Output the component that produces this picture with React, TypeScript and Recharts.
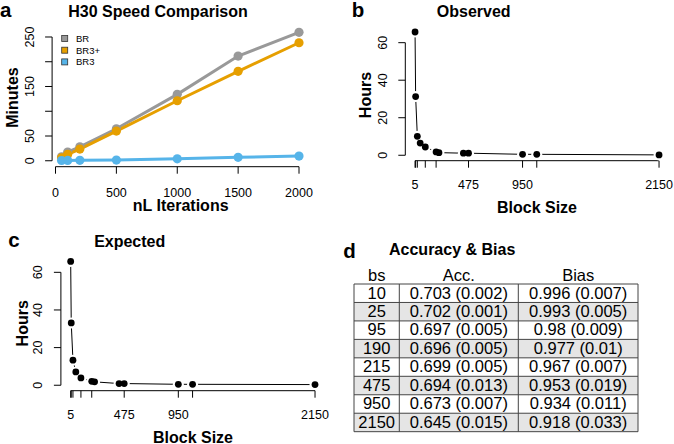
import React from "react";
import { LineChart, Line, XAxis, YAxis, ReferenceLine } from "recharts";

const FONT = '"Liberation Sans", Arial, Helvetica, sans-serif';

// panel a: run time vs nL iterations
const iterations = [50, 100, 200, 500, 1000, 1500, 2000];
const brMinutes = [8, 17.5, 28.3, 64.6, 134.1, 211.5, 259.4];
const br3PlusMinutes = [6, 12.9, 23.6, 60, 121.2, 180.6, 238.4];
const br3Minutes = [0.5, 0.6, 0.8, 1.4, 4, 6.9, 9.5];

const speedSeries = [
  { key: "br", label: "BR", color: "#999999", values: brMinutes },
  { key: "br3p", label: "BR3+", color: "#E69F00", values: br3PlusMinutes },
  { key: "br3", label: "BR3", color: "#56B4E9", values: br3Minutes },
];

// panels b and c: hours vs block size
const blockSizes = [5, 10, 25, 50, 95, 190, 215, 430, 475, 950, 1075, 2150];
const observedHours = [65.7, 31.3, 10.1, 6.5, 4.4, 1.8, 1.4, 1.1, 1.1, 0.5, 0.5, 0.2];
const expectedHours = [65.8, 33.1, 13.3, 7.1, 3.9, 2.1, 1.8, 0.9, 0.9, 0.5, 0.5, 0.35];

const iterTicks = [0, 500, 1000, 1500, 2000];
const minuteTicks = [0, 50, 100, 150, 200, 250];
const minuteLabels = [0, 50, 150, 250];
const blockTicks = [5, 10, 25, 95, 190, 475, 950, 1075, 2150];
const blockLabels = [5, 475, 950, 2150];
const hourTicks = [0, 20, 40, 60];

// panel d table
const tableBs = ["10", "25", "95", "190", "215", "475", "950", "2150"];
const tableAcc = [
  "0.703 (0.002)",
  "0.702 (0.001)",
  "0.697 (0.005)",
  "0.696 (0.005)",
  "0.699 (0.005)",
  "0.694 (0.013)",
  "0.673 (0.007)",
  "0.645 (0.015)",
];
const tableBias = [
  "0.996 (0.007)",
  "0.993 (0.005)",
  "0.98 (0.009)",
  "0.977 (0.01)",
  "0.967 (0.007)",
  "0.953 (0.019)",
  "0.934 (0.011)",
  "0.918 (0.033)",
];

const speedData = iterations.map((it, i) => {
  const row: Record<string, number> = { it };
  speedSeries.forEach((s) => (row[s.key] = s.values[i]));
  return row;
});
const observedData = blockSizes.map((bs, i) => ({ bs, hours: observedHours[i] }));
const expectedData = blockSizes.map((bs, i) => ({ bs, hours: expectedHours[i] }));

function XTick({ x, y, payload, shown }: any) {
  if (!shown.includes(payload.value)) return <g />;
  return (
    <text x={x} y={y} textAnchor="middle" dominantBaseline="central" fontSize={12.5} fontFamily={FONT} fill="#000">
      {payload.value}
    </text>
  );
}

function YTick({ x, y, payload, shown }: any) {
  if (!shown.includes(payload.value)) return <g />;
  return (
    <text
      x={x}
      y={y}
      transform={`rotate(-90, ${x}, ${y})`}
      textAnchor="middle"
      dominantBaseline="central"
      fontSize={12.5}
      fontFamily={FONT}
      fill="#000"
    >
      {payload.value}
    </text>
  );
}

function HaloDot({ cx, cy }: any) {
  return <circle cx={cx} cy={cy} r={5.5} fill="#fff" />;
}

const tickLine = { stroke: "#000", strokeWidth: 1 };

function BlockChart({ data, width, height, plot, tickDy }: any) {
  const [L, R, T, B] = plot;
  return (
    <LineChart width={width} height={height} data={data} margin={{ top: T, right: width - R, bottom: 0, left: 0 }}>
      <XAxis
        dataKey="bs"
        type="number"
        domain={[-80.8, 2235.8]}
        ticks={blockTicks}
        interval={0}
        height={height - B}
        axisLine={false}
        tickLine={tickLine}
        tickSize={7}
        tickMargin={tickDy - 7}
        tick={<XTick shown={blockLabels} />}
      />
      <YAxis
        type="number"
        domain={[-2.9, 68.3]}
        ticks={hourTicks}
        interval={0}
        width={L}
        axisLine={false}
        tickLine={tickLine}
        tickSize={7}
        tickMargin={15.5}
        tick={<YTick shown={hourTicks} />}
      />
      <ReferenceLine segment={[{ x: 5, y: -2.9 }, { x: 2150, y: -2.9 }]} stroke="#000" ifOverflow="visible" />
      <ReferenceLine segment={[{ x: -80.8, y: 0 }, { x: -80.8, y: 60 }]} stroke="#000" ifOverflow="visible" />
      <Line dataKey="hours" stroke="#000" strokeWidth={1} dot={<HaloDot />} activeDot={false} isAnimationActive={false} />
      <Line dataKey="hours" stroke="none" dot={{ r: 3.4, fill: "#000", stroke: "none" }} activeDot={false} isAnimationActive={false} />
    </LineChart>
  );
}

export default function App() {
  const rowH = 18.46;
  const tTop = 284;
  const cols = [354, 399.3, 518.3, 638];
  const colMid = [376.7, 458.8, 578.2];
  return (
    <div style={{ position: "absolute", left: 0, top: 0, width: 674, height: 444, background: "#fff", overflow: "hidden" }}>
      {/* a */}
      <div style={{ position: "absolute", left: 0, top: 0 }}>
        <LineChart width={337} height={215} data={speedData} margin={{ top: 26.1, right: 28.5, bottom: 0, left: 0 }}>
          <XAxis
            dataKey="it"
            type="number"
            domain={[-28, 2078]}
            ticks={iterTicks}
            interval={0}
            height={48.3}
            axisLine={false}
            tickLine={tickLine}
            tickSize={7}
            tickMargin={19}
            tick={<XTick shown={iterTicks} />}
          />
          <YAxis
            type="number"
            domain={[-12, 272]}
            ticks={minuteTicks}
            interval={0}
            width={52.1}
            axisLine={false}
            tickLine={tickLine}
            tickSize={7}
            tickMargin={15.5}
            tick={<YTick shown={minuteLabels} />}
          />
          <ReferenceLine segment={[{ x: 0, y: -12 }, { x: 2000, y: -12 }]} stroke="#000" ifOverflow="visible" />
          <ReferenceLine segment={[{ x: -28, y: 0 }, { x: -28, y: 250 }]} stroke="#000" ifOverflow="visible" />
          {speedSeries.map((s) => (
            <Line
              key={s.key}
              dataKey={s.key}
              stroke={s.color}
              strokeWidth={3}
              dot={{ r: 4.6, fill: s.color, stroke: "none" }}
              activeDot={false}
              isAnimationActive={false}
            />
          ))}
        </LineChart>
      </div>

      {/* b */}
      <div style={{ position: "absolute", left: 340, top: 0 }}>
        <BlockChart data={observedData} width={334} height={215} plot={[65.3, 328.8, 27.1, 160.7]} tickDy={24.3} />
      </div>

      {/* c */}
      <div style={{ position: "absolute", left: 0, top: 215 }}>
        <BlockChart data={expectedData} width={337} height={229} plot={[60.9, 324.8, 41.7, 175.7]} tickDy={24.3} />
      </div>

      {/* text, legend, table */}
      <svg
        width={674}
        height={444}
        style={{ position: "absolute", left: 0, top: 0, pointerEvents: "none" }}
        fontFamily={FONT}
      >
        <text x={0} y={17} fontSize={20.5} fontWeight="bold">a</text>
        <text x={158} y={16.7} fontSize={16} fontWeight="bold" textAnchor="middle">H30 Speed Comparison</text>
        <text x={12.5} y={97.5} fontSize={16} fontWeight="bold" textAnchor="middle" dominantBaseline="central" transform="rotate(-90, 12.5, 97.5)">Minutes</text>
        <text x={180.7} y={205.5} fontSize={16} fontWeight="bold" textAnchor="middle" dominantBaseline="central">nL Iterations</text>
        {speedSeries.map((s, i) => {
          const cy = 38.5 + i * 11.7;
          return (
            <g key={s.key}>
              <rect x={61.7} y={cy - 3} width={6} height={6} fill={s.color} stroke="#333" strokeWidth={0.8} />
              <text x={76} y={cy} fontSize={9.5} dominantBaseline="central">{s.label}</text>
            </g>
          );
        })}

        <text x={351.7} y={17} fontSize={20.5} fontWeight="bold">b</text>
        <text x={473.7} y={16.7} fontSize={16} fontWeight="bold" textAnchor="middle">Observed</text>
        <text x={365} y={95} fontSize={16} fontWeight="bold" textAnchor="middle" dominantBaseline="central" transform="rotate(-90, 365, 95)">Hours</text>
        <text x={537} y={207} fontSize={16} fontWeight="bold" textAnchor="middle" dominantBaseline="central">Block Size</text>

        <text x={8.3} y={246.7} fontSize={20.5} fontWeight="bold">c</text>
        <text x={129.7} y={246.7} fontSize={16} fontWeight="bold" textAnchor="middle">Expected</text>
        <text x={22.7} y={323.3} fontSize={16} fontWeight="bold" textAnchor="middle" dominantBaseline="central" transform="rotate(-90, 22.7, 323.3)">Hours</text>
        <text x={193} y={437} fontSize={16} fontWeight="bold" textAnchor="middle" dominantBaseline="central">Block Size</text>

        <text x={343.3} y={257.7} fontSize={20.5} fontWeight="bold">d</text>
        <text x={389} y={255} fontSize={16} fontWeight="bold">Accuracy &amp; Bias</text>
        <text x={colMid[0]} y={281} fontSize={16.5} textAnchor="middle">bs</text>
        <text x={colMid[1]} y={281} fontSize={16.5} textAnchor="middle">Acc.</text>
        <text x={colMid[2]} y={281} fontSize={16.5} textAnchor="middle">Bias</text>
        {tableBs.map((bs, i) => {
          const y0 = tTop + i * rowH;
          return (
            <g key={bs}>
              <rect x={cols[0]} y={y0} width={cols[3] - cols[0]} height={rowH} fill={i % 2 ? "#e5e5e5" : "#fff"} />
              <text x={colMid[0]} y={y0 + 14.5} fontSize={16.5} textAnchor="middle">{bs}</text>
              <text x={colMid[1]} y={y0 + 14.5} fontSize={16.5} textAnchor="middle">{tableAcc[i]}</text>
              <text x={colMid[2]} y={y0 + 14.5} fontSize={16.5} textAnchor="middle">{tableBias[i]}</text>
            </g>
          );
        })}
        {tableBs.map((bs, i) => (
          <line key={"h" + bs} x1={cols[0]} x2={cols[3]} y1={tTop + i * rowH} y2={tTop + i * rowH} stroke="#444" strokeWidth={1} />
        ))}
        <line x1={cols[0]} x2={cols[3]} y1={tTop + 8 * rowH} y2={tTop + 8 * rowH} stroke="#444" strokeWidth={1} />
        {cols.map((cx) => (
          <line key={cx} x1={cx} x2={cx} y1={tTop} y2={tTop + 8 * rowH} stroke="#444" strokeWidth={1} />
        ))}
      </svg>
    </div>
  );
}
